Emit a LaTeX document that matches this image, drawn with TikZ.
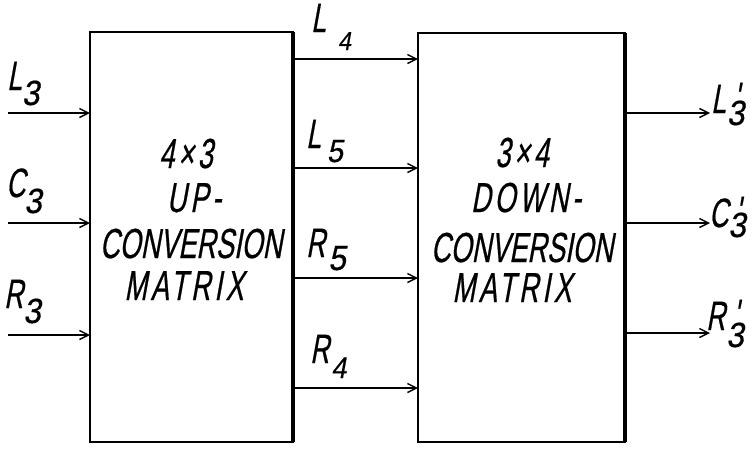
\documentclass[tikz,border=0pt]{standalone}
\usepackage{fontspec}
\newfontfamily\hand[FakeSlant=0.18,FakeStretch=0.645,FakeBold=0.5,Ligatures=TeXOff]{Liberation Sans}
\newfontfamily\handd[FakeSlant=0.18,FakeStretch=0.9,FakeBold=0.5,Ligatures=TeXOff]{Liberation Sans}
\newfontfamily\hands[FakeSlant=0.18,FakeStretch=0.645,FakeBold=0.5,LetterSpace=9,Ligatures=TeXOff]{Liberation Sans}
\usetikzlibrary{arrows.meta}
\newcommand\lbsub[5]{#1\kern#3pt\raisebox{-#4pt}{\handd\fontsize{#5}{#5}\selectfont #2}}
\newcommand\lbpr[4]{#1\kern#3pt\rlap{\kern7pt\raisebox{2pt}{'}}\raisebox{-#4pt}{\handd\fontsize{35}{35}\selectfont #2}}
\begin{document}
\begin{tikzpicture}[x=1pt,y=-1pt,
  blk/.style={draw,line width=1.6pt,inner sep=0pt,outer sep=0pt},
  sig/.style={line width=1.4pt,-{Straight Barb[length=9pt,width=9pt,line width=1.4pt]}},
  mtxt/.style={font=\hand\fontsize{42}{42}\selectfont,anchor=base,inner sep=0pt},
  mtxs/.style={font=\hands\fontsize{42}{42}\selectfont,anchor=base,inner sep=0pt},
  lab/.style={font=\hand\fontsize{41}{41}\selectfont,anchor=base west,inner sep=0pt}]
\useasboundingbox[fill=white] (0,0) rectangle (754,448);
% boxes
\node[blk,minimum width=203pt,minimum height=410pt] (up) at (191.5,237) {};
\node[blk,minimum width=207pt,minimum height=409pt] (down) at (521.5,237.5) {};
\draw[line width=3.2pt] (up.north east) -- (up.south east);
\draw[line width=3.2pt] (down.north east) -- (down.south east);
% box texts
\node[mtxs] (u1) at (186,168) {4×3};
\node[mtxs] (u2) at (194,212) {UP-};
\node[mtxt] (u3) at (191,258) {CONVERSION};
\node[mtxs] (u4) at (184,300) {MATRIX};
\node[mtxs] (d1) at (522,167) {3×4};
\node[mtxs] (d2) at (526,212) {DOWN-};
\node[mtxt] (d3) at (522,262) {CONVERSION};
\node[mtxs] (d4) at (512,302) {MATRIX};
% coordinates
\coordinate (i1) at (8,113);
\coordinate (i2) at (8,223);
\coordinate (i3) at (8,335);
\coordinate (m1) at (0,59);
\coordinate (m2) at (0,168);
\coordinate (m3) at (0,278);
\coordinate (m4) at (0,388);
\coordinate (o1) at (710,113);
\coordinate (o2) at (710,223);
\coordinate (o3) at (710,333);
% arrows
\draw[sig] (i1) -- (up.west |- i1);
\draw[sig] (i2) -- (up.west |- i2);
\draw[sig] (i3) -- (up.west |- i3);
\draw[sig] (up.east |- m1) -- (down.west |- m1);
\draw[sig] (up.east |- m2) -- (down.west |- m2);
\draw[sig] (up.east |- m3) -- (down.west |- m3);
\draw[sig] (up.east |- m4) -- (down.west |- m4);
\draw[sig] (down.east |- o1) -- (o1);
\draw[sig] (down.east |- o2) -- (o2);
\draw[sig] (down.east |- o3) -- (o3);
% labels
\node[lab] (tL3) at (7,90) {\lbsub{L}{3}{0}{15}{35}};
\node[lab] (tC3) at (6,197) {\lbsub{C}{3}{-1}{16}{35}};
\node[lab] (tR3) at (4,308) {\lbsub{R}{3}{0}{15}{35}};
\node[lab] (tL4) at (311,32) {\lbsub{L}{4}{12}{18}{26}};
\node[lab] (tL5) at (306,148) {\lbsub{L}{5}{6}{14}{32}};
\node[lab] (tR5) at (306,257) {\lbsub{R}{5}{3}{13}{35}};
\node[lab] (tR4) at (310,363) {\lbsub{R}{4}{2}{15}{30}};
\node[lab] (tL3p) at (711,113) {\lbpr{L}{3}{1}{12}};
\node[lab] (tC3p) at (709,227) {\lbpr{C}{3}{0}{10}};
\node[lab] (tR3p) at (706,330) {\lbpr{R}{3}{1}{17}};
\end{tikzpicture}
\end{document}
